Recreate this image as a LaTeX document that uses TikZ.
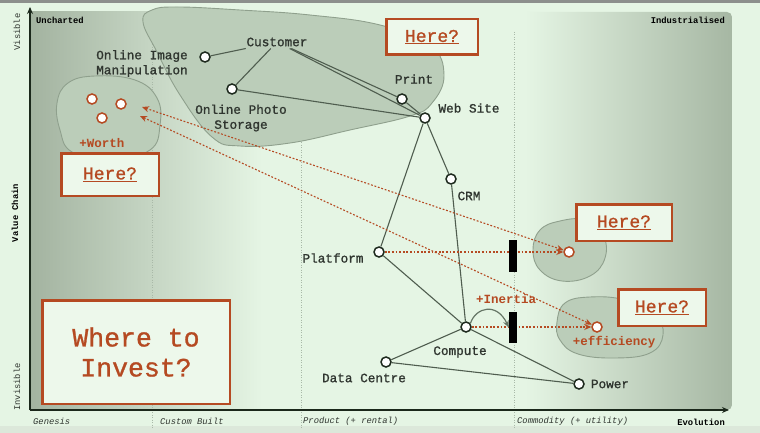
\documentclass[tikz,border=0pt]{standalone}
\usepackage{fontspec}
\setmainfont{Liberation Mono}
\usetikzlibrary{arrows.meta}
\definecolor{bg}{HTML}{E5F5E4}
\definecolor{shadeL}{HTML}{A3B3A0}
\definecolor{shadeM}{HTML}{C9DAC7}
\definecolor{shadeR}{HTML}{A6B7A3}
\definecolor{shadeRM}{HTML}{D2E3CF}
\definecolor{gridc}{HTML}{A9B9A8}
\definecolor{blobfill}{HTML}{BBCDB9}
\definecolor{blobline}{HTML}{8FA08D}
\definecolor{edgec}{HTML}{4F5D4F}
\definecolor{nodeline}{HTML}{1E2A1E}
\definecolor{labelc}{HTML}{2F352F}
\definecolor{orng}{HTML}{B54A22}
\definecolor{boxfill}{HTML}{EDF8EB}
\definecolor{axisc}{HTML}{1B281B}
\definecolor{curvec}{HTML}{667666}
\definecolor{topbar}{HTML}{8C8F8C}
\definecolor{botbar}{HTML}{DCE8DA}
\tikzset{
  comp/.style={circle, draw=nodeline, fill=white, line width=1.5pt, minimum size=10pt, inner sep=0pt},
  ocomp/.style={circle, draw=orng, fill=white, line width=1.5pt, minimum size=10pt, inner sep=0pt},
  lbl/.style={font=\fontsize{12.7}{15}\selectfont\addfontfeatures{FakeBold=1.2}, text=labelc, inner sep=0pt},
  tiny/.style={font=\fontsize{8.8}{10}\selectfont\bfseries, text=black, inner sep=0pt},
  tinyit/.style={font=\fontsize{8.8}{10}\selectfont\itshape, text=labelc, inner sep=0pt},
  edge/.style={draw=edgec, line width=1.1pt},
  hbox/.style={draw=orng, line width=2.5pt, fill=boxfill, inner sep=0pt, text=orng, font=\fontsize{18}{20}\selectfont\addfontfeatures{FakeBold=1}},
  otext/.style={text=orng, font=\fontsize{12.5}{14}\selectfont\bfseries, inner sep=0pt},
  oarrow/.style={draw=orng, line width=1.1pt, dash pattern=on 1.8pt off 1.8pt, -{Stealth[length=7pt,width=6pt]}},
  obiarrow/.style={draw=orng, line width=1.1pt, dash pattern=on 1.8pt off 1.8pt, {Stealth[length=7pt,width=6pt]}-{Stealth[length=7pt,width=6pt]}},
  blob/.style={fill=blobfill, draw=blobline, line width=0.9pt},
  gridline/.style={draw=gridc, line width=0.6pt, dash pattern=on 1pt off 1.5pt},
  barbox/.style={fill=black, minimum width=8pt, inner sep=0pt}
}
\begin{document}
\begin{tikzpicture}[x=1pt,y=-1pt]
\useasboundingbox (0,0) rectangle (760,433);
% background
\fill[bg] (0,0) rectangle (760,433);
\fill[topbar] (0,0) rectangle (760,3);
\fill[botbar] (0,426) rectangle (760,433);
% shadings
\shade[left color=shadeL, middle color=shadeM, right color=bg] (30,12) rectangle (262,410);
\shade[left color=bg, middle color=shadeRM, right color=shadeR] (525,12) [rounded corners=5pt] -- (732,12) -- (732,410) [sharp corners] -- (525,410) -- cycle;
% grid lines
\draw[gridline] (152,32) -- (152,428);
\draw[gridline] (301,32) -- (301,428);
\draw[gridline] (514,32) -- (514,428);
% axes
\draw[axisc, line width=1.8pt, -{Stealth[length=7pt,width=6pt]}] (30,410) -- (30,7);
\draw[axisc, line width=1.8pt, -{Stealth[length=7pt,width=6pt]}] (30,410) -- (729,410);
% axis labels
\node[tiny, anchor=west] (unch) at (36,20) {Uncharted};
\node[tiny, anchor=east] (indus) at (725,20) {Industrialised};
\node[tiny, rotate=90, font=\fontsize{8.8}{10}\selectfont, text=labelc] (vis) at (17,32) {Visible};
\node[tiny, rotate=90] (vc) at (15,213) {Value Chain};
\node[tiny, rotate=90, font=\fontsize{8.8}{10}\selectfont, text=labelc] (invis) at (17,387) {Invisible};
\node[tinyit, anchor=west] (gen) at (33,421) {Genesis};
\node[tinyit, anchor=west] (cb) at (160,421) {Custom Built};
\node[tinyit, anchor=west] (prod) at (303,421) {Product (+ rental)};
\node[tinyit, anchor=west] (comm) at (517,421) {Commodity (+ utility)};
\node[tiny, anchor=east] (evo) at (725,422) {Evolution};
% blobs
\filldraw[blob] plot[smooth cycle, tension=0.7] coordinates {(143,22) (152,10) (178,7) (240,10) (310,15) (380,25) (430,45) (444,75) (432,103) (410,116) (350,130) (290,143) (240,146) (212,137) (180,95) (157,52)};
\filldraw[blob] plot[smooth cycle, tension=0.7] coordinates {(57,103) (68,83) (95,76) (135,80) (157,98) (160,125) (150,150) (110,160) (72,152) (60,130)};
\filldraw[blob] plot[smooth cycle, tension=0.7] coordinates {(533,250) (540,230) (560,221) (585,220) (603,235) (605,258) (590,276) (562,281) (540,270)};
\filldraw[blob] plot[smooth cycle, tension=0.7] coordinates {(557,322) (565,303) (590,297) (625,300) (655,315) (663,335) (650,353) (615,358) (578,354) (560,340)};
% components
\node[lbl, inner sep=2pt] (customer) at (277,42) {Customer};
\node[comp] (oim) at (205,57) {};
\node[comp] (ops) at (232,89) {};
\node[comp] (print) at (402,99) {};
\node[comp] (web) at (425,118) {};
\node[comp] (crm) at (451,179) {};
\node[comp] (platform) at (379,252) {};
\node[comp] (compute) at (466,327) {};
\node[comp] (dc) at (386,362) {};
\node[comp] (power) at (579,384) {};
% labels
\node[lbl, align=left] (oiml) at (142,63.5) {Online Image\\Manipulation};
\node[lbl, align=center] (opsl) at (241,118) {Online Photo\\Storage};
\node[lbl] (printl) at (414,79) {Print};
\node[lbl] (webl) at (469,108) {Web Site};
\node[lbl] (crml) at (469,196) {CRM};
\node[lbl] (platforml) at (333,258) {Platform};
\node[lbl] (computel) at (460,352) {Compute};
\node[lbl] (dcl) at (364,378) {Data Centre};
\node[lbl] (powerl) at (610,384) {Power};
% edges
\draw[edge] (oim) -- (customer);
\draw[edge] (ops) -- (customer);
\draw[edge] (ops) -- (web);
\draw[edge] (customer) -- (print);
\draw[edge] (customer) -- (web);
\draw[edge] (print) -- (web);
\draw[edge] (web) -- (crm);
\draw[edge] (web) -- (platform);
\draw[edge] (crm) -- (compute);
\draw[edge] (platform) -- (compute);
\draw[edge] (compute) -- (dc);
\draw[edge] (compute) -- (power);
\draw[edge] (dc) -- (power);
% orange components
\node[ocomp] (w1) at (92,99) {};
\node[ocomp] (w2) at (121,104) {};
\node[ocomp] (w3) at (102,118) {};
\node[ocomp] (r1) at (569,252) {};
\node[ocomp] (r2) at (597,327) {};
\coordinate (a1) at (142,107);
\coordinate (a2) at (140,116);
% orange arrows
\draw[oarrow] (platform) -- (r1);
\draw[oarrow] (compute) -- (r2);
\draw[obiarrow] (a1) -- (r1);
\draw[obiarrow] (a2) -- (r2);
% inertia bars
\node[barbox, minimum height=32pt] (bar1) at (513,255.5) {};
\node[barbox, minimum height=31pt] (bar2) at (513,327.5) {};
\draw[curvec, line width=1.2pt, -{Stealth[length=7pt,width=6pt]}] (compute.40) .. controls (476,307) and (497,302) .. (bar2.west);
% orange texts
\node[otext] (worth) at (102,143) {+Worth};
\node[otext] (inertia) at (506,299) {+Inertia};
\node[otext] (eff) at (614,342) {+efficiency};
% boxes
\node[hbox, minimum width=91.5pt, minimum height=35.5pt] (htop) at (432,37) {\underline{Here?}};
\node[hbox, minimum width=97.5pt, minimum height=42.5pt] (hleft) at (110,174.5) {\underline{Here?}};
\node[hbox, minimum width=95.5pt, minimum height=36.5pt] (hr1) at (624,222.5) {\underline{Here?}};
\node[hbox, minimum width=87.5pt, minimum height=36.5pt] (hr2) at (662,307.5) {\underline{Here?}};
\node[hbox, minimum width=187.5pt, minimum height=103.5pt, align=center, font=\fontsize{26.5}{30}\selectfont\addfontfeatures{FakeBold=1}] (invest) at (136,352) {Where to\\Invest?};
\end{tikzpicture}
\end{document}
